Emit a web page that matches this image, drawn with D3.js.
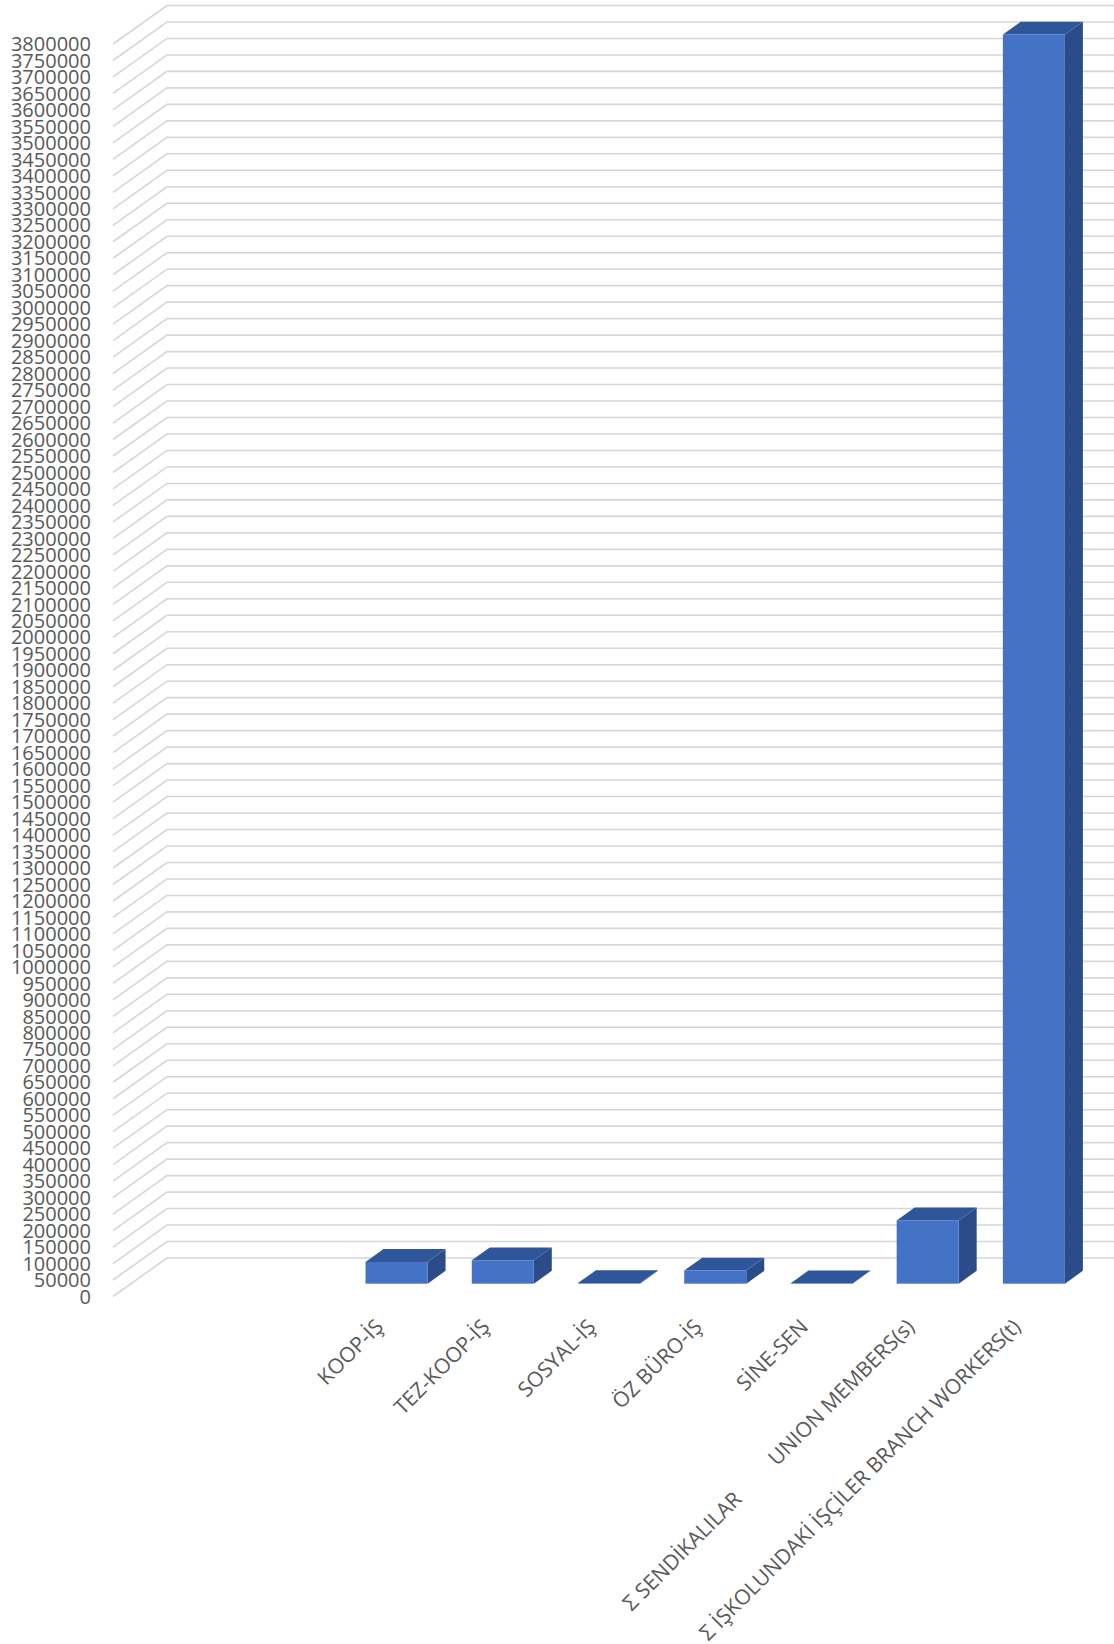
<!DOCTYPE html>
<html>
<head>
<meta charset="utf-8">
<script src="https://cdn.jsdelivr.net/npm/d3@7"></script>
<style>
  body { margin: 0; background: #fff; }
  text { font-family: "Open Sans", sans-serif; fill: #595959; }
</style>
</head>
<body>
<script>
// chart data
const categories = ['', '', 'KOOP-İŞ', 'TEZ-KOOP-İŞ', 'SOSYAL-İŞ', 'ÖZ BÜRO-İŞ', 'SİNE-SEN',
  'Σ  SENDİKALILAR\nUNION MEMBERS(s)', 'Σ İŞKOLUNDAKİ İŞÇİLER BRANCH WORKERS(t)'];
const values = [null, null, 66000, 71000, 2000, 40000, 800, 192000, 3790000];
const tickValues = d3.range(0, 3800001, 50000);

const width = 1114, height = 1644;
const depthX = 54, depthY = -38.5;   // floor depth, front to back wall
const barFront = 1 / 3, barBack = 2 / 3;

const svg = d3.select('body').append('svg')
  .attr('width', width)
  .attr('height', height);

const x = d3.scaleBand()
  .domain(d3.range(categories.length))
  .range([113, 1069])
  .paddingInner(0.416)
  .paddingOuter(0.208);

const y = d3.scaleLinear()
  .domain([0, 3800000])
  .range([1296.5, 44]);

// gridlines: diagonal on side wall, horizontal on back wall
const grid = svg.append('g')
  .attr('fill', 'none')
  .attr('stroke', '#d6d6d6')
  .attr('stroke-width', 1.6);

grid.selectAll('path')
  .data(tickValues)
  .enter()
  .append('path')
  .attr('d', d => {
    const x0 = 113, y0 = y(d);
    return `M${x0},${y0}L${x0 + depthX},${y0 + depthY}L${width},${y0 + depthY}`;
  });

// value axis labels
svg.append('g')
  .selectAll('text')
  .data(tickValues)
  .enter()
  .append('text')
  .attr('x', 91)
  .attr('y', d => y(d))
  .attr('dy', '0.36em')
  .attr('text-anchor', 'end')
  .style('font-size', '20px')
  .text(d => d);

// 3d bars
const bars = svg.append('g')
  .selectAll('g')
  .data(values.map((v, i) => ({ v, i })).filter(d => d.v != null))
  .enter()
  .append('g');

const fx = barFront * depthX, fy = barFront * depthY;
const bx = barBack * depthX, by = barBack * depthY;

bars.each(function(d) {
  const g = d3.select(this);
  const left = x(d.i) + fx;
  const right = x(d.i) + x.bandwidth() + fx;
  const top = y(d.v) + fy;
  const bottom = y(0) + fy;
  const ddx = bx - fx, ddy = by - fy;

  g.append('path')   // side
    .attr('d', `M${right},${top}L${right + ddx},${top + ddy}L${right + ddx},${bottom + ddy}L${right},${bottom}Z`)
    .attr('fill', '#2c4c89');
  g.append('path')   // top
    .attr('d', `M${left},${top}L${left + ddx},${top + ddy}L${right + ddx},${top + ddy}L${right},${top}Z`)
    .attr('fill', '#30569a');
  g.append('rect')   // front
    .attr('x', left)
    .attr('y', top)
    .attr('width', right - left)
    .attr('height', Math.max(0, bottom - top))
    .attr('fill', '#4472c4');
});

// category labels, rotated -45
const labels = svg.append('g')
  .selectAll('text')
  .data(categories.map((c, i) => ({ c, i })).filter(d => d.c !== ''))
  .enter()
  .append('text')
  .attr('text-anchor', 'end')
  .style('font-size', '21px')
  .attr('transform', d => `translate(${x(d.i) + x.bandwidth() / 2 + 6},1328) rotate(-45)`);

labels.each(function(d) {
  const parts = d.c.split('\n');
  const t = d3.select(this);
  if (parts.length === 1) {
    t.text(parts[0]);
  } else {
    // second line sits on the same baseline, further back
    t.append('tspan').text(parts[0]);
    t.append('tspan').attr('dx', 48).text(parts[1]);
  }
});
</script>
</body>
</html>
